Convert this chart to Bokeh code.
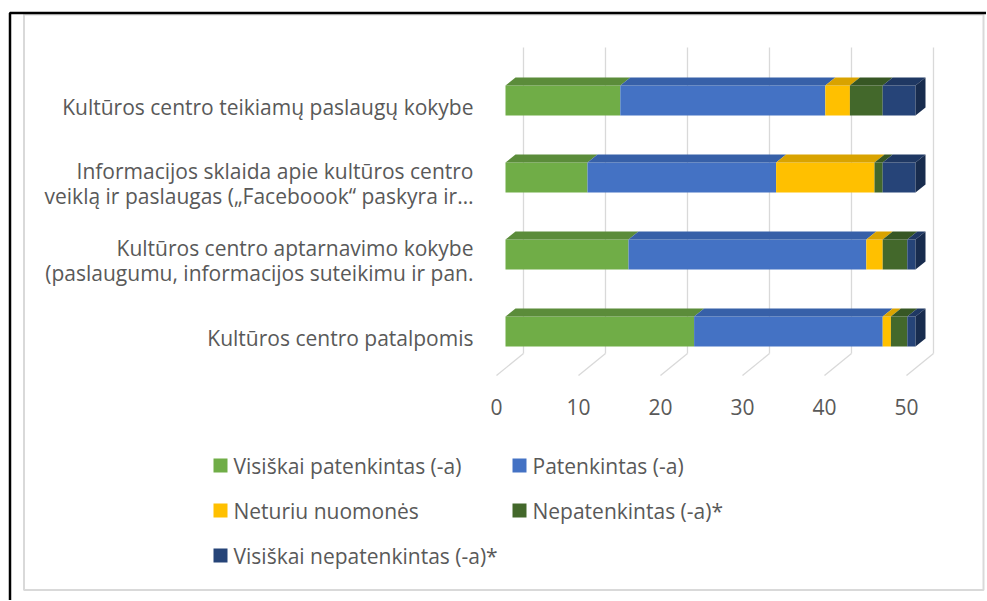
from bokeh.plotting import figure
from bokeh.models import Range1d
from bokeh.core.properties import value
from bokeh.embed import file_html
from bokeh.resources import INLINE

# ---------------- data ----------------
categories = [
    "Kultūros centro patalpomis",
    "Kultūros centro aptarnavimo kokybe\n(paslaugumu, informacijos suteikimu ir pan.",
    "Informacijos sklaida apie kultūros centro\nveiklą ir paslaugas („Faceboook“ paskyra ir…",
    "Kultūros centro teikiamų paslaugų kokybe",
]
series_names = [
    "Visiškai patenkintas (-a)",
    "Patenkintas (-a)",
    "Neturiu nuomonės",
    "Nepatenkintas (-a)*",
    "Visiškai nepatenkintas (-a)*",
]
visiskai_patenkintas = [23, 15, 10, 14]
patenkintas = [23, 29, 23, 25]
neturiu_nuomones = [1, 2, 12, 3]
nepatenkintas = [2, 3, 1, 4]
visiskai_nepatenkintas = [1, 1, 4, 4]
tick_values = [0, 10, 20, 30, 40, 50]

series_values = [visiskai_patenkintas, patenkintas, neturiu_nuomones,
                 nepatenkintas, visiskai_nepatenkintas]
front_colors = ["#70AD47", "#4472C4", "#FFC000", "#43682B", "#264478"]
top_colors = ["#5B8C3A", "#3760A8", "#D9A300", "#375724", "#1F3863"]
side_color = "#182C4E"

# ------------- geometry ---------------
W, H = 986, 600
PX_PER_X = 8.2      # pixels per unit on value axis
PX_PER_Y = 77.0     # pixels per category step
X0_PX = 505         # px of value 0 (front face)
Y0_PX = 331         # px (from top) of category 0


def X(px):  # page px -> data x
    return (px - X0_PX) / PX_PER_X


def Y(py):  # page py -> data y
    return (Y0_PX - py) / PX_PER_Y


p = figure(width=W, height=H, output_backend="svg", toolbar_location=None,
           x_range=Range1d(X(0), X(W)), y_range=Range1d(Y(H), Y(0)),
           min_border=0)
p.axis.visible = False
p.grid.visible = False
p.outline_line_color = None
p.background_fill_color = "white"
p.border_fill_color = "white"

FONT = value("Open Sans")
FS = "21px"
TXT = "#595959"

# frames
p.quad(left=X(23.5), right=X(983), top=Y(14), bottom=Y(589.5),
       fill_color=None, line_color="#D9D9D9", line_width=2)
p.line([X(9.5), X(9.5), X(995)], [Y(610), Y(12.5), Y(12.5)],
       line_color="black", line_width=2.5)

# 3D floor and gridlines
front_dx = (496 - 505) / PX_PER_X
back_dx = (523 - 505) / PX_PER_X
p.segment(x0=[t + front_dx for t in tick_values], y0=[Y(375)] * len(tick_values),
          x1=[t + back_dx for t in tick_values], y1=[Y(353)] * len(tick_values),
          line_color="#D9D9D9", line_width=1.3)
p.segment(x0=[t + back_dx for t in tick_values], y0=[Y(353)] * len(tick_values),
          x1=[t + back_dx for t in tick_values], y1=[Y(47)] * len(tick_values),
          line_color="#D9D9D9", line_width=1.3)

# tick labels
p.text(x=[t + front_dx for t in tick_values], y=[Y(406)] * len(tick_values),
       text=[str(t) for t in tick_values], text_align="center",
       text_baseline="middle", text_font=FONT, text_font_size=FS,
       text_color=TXT)

# bars
h = 30 / PX_PER_Y
ddx = 10 / PX_PER_X
ddy = 8 / PX_PER_Y
ys = list(range(len(categories)))
cum = [0.0] * len(categories)
for k, vals in enumerate(series_values):
    lefts = cum[:]
    rights = [c + v for c, v in zip(cum, vals)]
    p.quad(left=lefts, right=rights, bottom=[y - h / 2 for y in ys],
           top=[y + h / 2 for y in ys], fill_color=front_colors[k],
           line_color=None)
    txs, tys = [], []
    for l, r, y in zip(lefts, rights, ys):
        if r > l:
            txs.append([l, r, r + ddx, l + ddx])
            tys.append([y + h / 2, y + h / 2, y + h / 2 + ddy, y + h / 2 + ddy])
    p.patches(txs, tys, fill_color=top_colors[k], line_color=None)
    cum = rights

# right end faces
sxs, sys_ = [], []
for r, y in zip(cum, ys):
    sxs.append([r, r + ddx, r + ddx, r])
    sys_.append([y - h / 2, y - h / 2 + ddy, y + h / 2 + ddy, y + h / 2])
p.patches(sxs, sys_, fill_color=side_color, line_color=None)

# category labels
p.text(x=[X(473)] * len(categories), y=[y - 6 / PX_PER_Y for y in ys],
       text=categories, text_align="right", text_baseline="middle",
       text_font=FONT, text_font_size=FS, text_color=TXT,
       text_line_height=0.9)

# legend (manual, Excel-like two columns)
leg_sq_x = [X(220), X(519), X(220), X(519), X(220)]
leg_tx_x = [X(233), X(532), X(233), X(532), X(233)]
leg_y = [Y(465), Y(465), Y(510), Y(510), Y(555)]
p.scatter(x=leg_sq_x, y=leg_y, marker="square", size=14,
          fill_color=front_colors, line_color=None)
p.text(x=leg_tx_x, y=leg_y, text=series_names, text_align="left",
       text_baseline="middle", text_font=FONT, text_font_size=FS,
       text_color=TXT)

open("out.html", "w").write(file_html(p, INLINE))
